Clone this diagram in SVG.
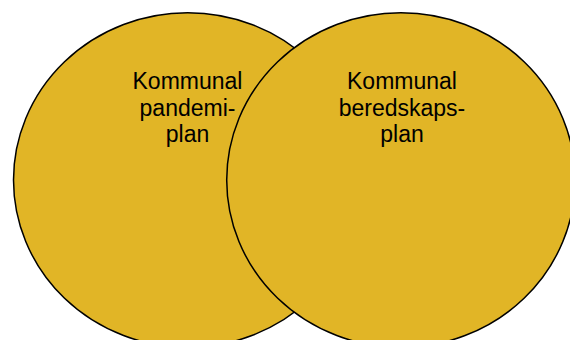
<svg xmlns="http://www.w3.org/2000/svg" width="570" height="340" viewBox="0 0 570 340">
<style>
.c{fill:#E1B526;stroke:#000;stroke-width:1.5}
.t{font-family:"Liberation Sans",Arial,sans-serif;font-size:23px;fill:#000;text-anchor:middle}
</style>
<rect width="570" height="340" fill="#fff"/>
<g id="pandemiplan">
<ellipse class="c" cx="187.7" cy="180" rx="174.2" ry="167.3"/>
</g>
<g id="beredskapsplan">
<ellipse class="c" cx="400.9" cy="180" rx="174.2" ry="167.3"/>
</g>
<g id="labels">
<text class="t" x="187.5" y="89">Kommunal</text>
<text class="t" x="187.5" y="115.5">pandemi-</text>
<text class="t" x="187.5" y="142">plan</text>
<text class="t" x="402" y="89">Kommunal</text>
<text class="t" x="402" y="115.5">beredskaps-</text>
<text class="t" x="402" y="142">plan</text>
</g>
<g id="connectors"/>
</svg>
